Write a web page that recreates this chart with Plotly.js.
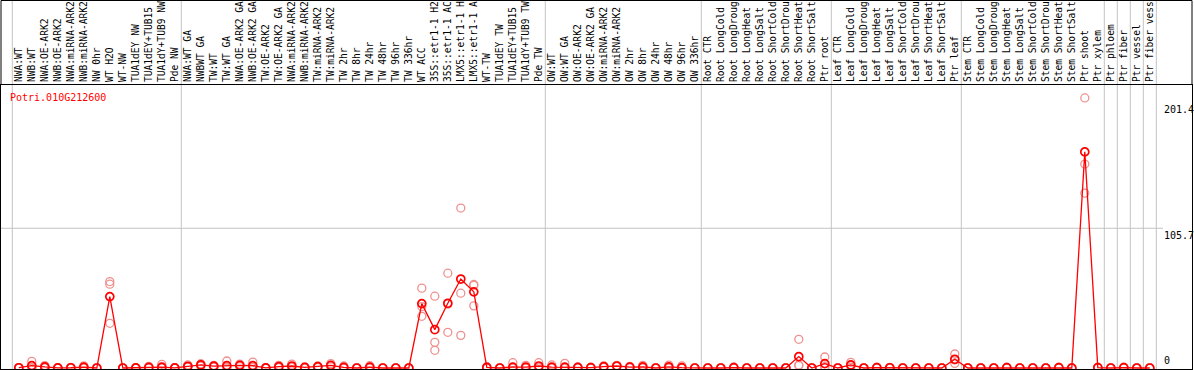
<!DOCTYPE html>
<html><head><meta charset="utf-8">
<script src="https://cdn.plot.ly/plotly-3.0.1.min.js"></script>
<style>html,body{margin:0;padding:0;background:#fff;overflow:hidden}</style>
</head><body><div id="chart" style="width:1194px;height:370px"></div>
<script>
const geneName = 'Potri.010G212600';

const labels = [
  'NWA:WT','NWB:WT','NWA:OE-ARK2','NWB:OE-ARK2','NWA:miRNA-ARK2','NWB:miRNA-ARK2','NW 0hr','WT H2O','WT-NW','TUA1dEY NW','TUA1dEY+TUB15','TUA1dY+TUB9 NW','Pde NW',
  'NWA:WT GA','NWBWT GA','TW:WT','TW:WT GA','NWA:OE-ARK2 GA','NWB:OE-ARK2 GA','TW:OE-ARK2','TW:OE-ARK2 GA','NWA:miRNA-ARK2','NWB:miRNA-ARK2','TW:miRNA-ARK2','TW:miRNA-ARK2','TW 2hr','TW 8hr','TW 24hr','TW 48hr','TW 96hr','TW 336hr','WT ACC','35S::etr1-1 H2','35S::etr1-1 AC','LMX5::etr1-1 H','LMX5::etr1-1 A','WT-TW','TUA1dEY TW','TUA1dEY+TUB15','TUA1dY+TUB9 TW','Pde TW',
  'OW:WT','OW:WT GA','OW:OE-ARK2','OW:OE-ARK2 GA','OW:miRNA-ARK2','OW:miRNA-ARK2','OW 2hr','OW 8hr','OW 24hr','OW 48hr','OW 96hr','OW 336hr',
  'Root CTR','Root LongCold','Root LongDroug','Root LongHeat','Root LongSalt','Root ShortCold','Root ShortDrou','Root ShortHeat','Root ShortSalt','Ptr root',
  'Leaf CTR','Leaf LongCold','Leaf LongDroug','Leaf LongHeat','Leaf LongSalt','Leaf ShortCold','Leaf ShortDrou','Leaf ShortHeat','Leaf ShortSalt','Ptr leaf',
  'Stem CTR','Stem LongCold','Stem LongDroug','Stem LongHeat','Stem LongSalt','Stem ShortCold','Stem ShortDrou','Stem ShortHeat','Stem ShortSalt','Ptr shoot','Ptr xylem',
  'Ptr phloem','Ptr fiber','Ptr vessel','Ptr fiber vess'
];

const means = [
  0.2,1.8,0.8,0.1,0.2,0.6,0,54,0,0.1,0.5,0.6,0.1,
  1.3,2.3,1.4,1.8,2,1.8,0.1,1,1.5,0.4,1,2,0.5,0,0.7,0,0,0,48.7,29,49,67.3,57.6,0.4,0,0.7,0.7,1.5,
  0.7,0.7,0.4,0.3,1,1.5,0.7,0.8,0,0.8,0.3,0,
  0,0,0.3,0,0,0,0,8.6,0,3.3,
  0,2.3,0,0.3,0.2,0,0,0,0,6.6,
  0,0,0,0.3,0,0,0,0.3,0,163.5,0.3,
  0,0.3,0,0
];

const rep1 = [
  0.3,5.0,1.8,0.2,0.5,1.6,0,65.4,0,0.2,1.2,2.8,0.2,
  2.3,3.2,2,5.3,3,4.5,0.2,2,3,0.8,1.5,3.3,1.5,0,1.7,0,0,0,60.4,54.3,71.7,121,63.2,1,0,4,2,4,
  2.3,3.5,0.8,0.6,1.6,2,1.2,2,0,2.2,1.6,0,
  0,0,0.8,0,0,0,0,21.7,0,8.3,
  0,4.3,0,0.6,0.4,0,0,0,0,10.6,
  0,0,0,0.6,0,0,0,0.6,0,204.3,0.6,
  0,0.6,0,0
];
const rep2 = [
  0.2,0.3,0.4,0.1,0.1,0.2,0,63.4,0,0.1,0.2,0.5,0.1,
  1,2.2,1.5,0.6,2,0.6,0.1,0.7,1,0.3,1,1.8,0,0,0.3,0,0,0,46.5,19.4,48.3,56.6,62.6,0.2,0,0.1,0.2,0.4,
  0,0,0.3,0.2,1,1.5,0.6,0.3,0,0.2,0,0,
  0,0,0.1,0,0,0,0,2.3,0,1,
  0,2,0,0.2,0.1,0,0,0,0,6,
  0,0,0,0.2,0,0,0,0.2,0,154.3,0.2,
  0,0.2,0,0
];
const rep3 = [
  0.1,0.2,0.2,0,0,0,0,33.8,0,0,0.1,0,0,
  0.6,1.5,0.7,0.5,1,0.3,0,0.3,0.5,0.1,0.5,0.9,0,0,0,0,0,0,39.1,13.4,27,24.7,47,0,0,0,0,0.1,
  0,0,0.1,0.1,0.4,1,0.3,0.1,0,0.1,0,0,
  0,0,0,0,0,0,0,1.8,0,0.6,
  0,0.6,0,0.1,0.1,0,0,0,0,3.5,
  0,0,0,0.1,0,0,0,0.1,0,132.3,0.1,
  0,0.1,0,0
];

const groupBreaks = [-0.5, 12.5, 40.5, 52.5, 62.5, 72.5, 83.5, 84.5, 85.5, 86.5, 87.5];
const yTickVals = [0, 105.7, 201.4];
const yTickText = ['0', '105.7', '201.4'];

const idx = labels.map((_, i) => i);
const font = 'DejaVu Sans Mono, monospace';
const W = 1194, H = 370;
const mL = 1, mR = 2, mT = 85, mB = 1;
const plotH = H - mT - mB;
const topPaper = (plotH + mT - 0.5) / plotH;

const repX = idx.concat(idx, idx);
const repY = rep1.concat(rep2, rep3);

const traces = [
  {
    x: repX, y: repY, type: 'scatter', mode: 'markers',
    marker: {symbol: 'circle-open', size: 8, color: '#ee9090', line: {width: 1.3, color: '#ee9090'}},
    hoverinfo: 'skip'
  },
  {
    x: idx, y: means, type: 'scatter', mode: 'lines+markers',
    line: {color: '#ff0000', width: 1.3},
    marker: {symbol: 'circle-open', size: 8, color: '#ff0000', line: {width: 1.7, color: '#ee0000'}}
  }
];

const shapes = [];
groupBreaks.forEach(b => shapes.push({
  type: 'line', xref: 'x', yref: 'paper', x0: b, x1: b, y0: 0, y1: topPaper + 0.01,
  line: {color: '#c4c4c4', width: 1}, layer: 'below'
}));
shapes.push({type: 'line', xref: 'paper', yref: 'y', x0: 0, x1: (1163 - mL) / (W - mL - mR), y0: yTickVals[1], y1: yTickVals[1],
  line: {color: '#c4c4c4', width: 1}, layer: 'below'});
shapes.push({type: 'line', xref: 'paper', yref: 'paper', x0: 0, x1: 1, y0: topPaper, y1: topPaper, line: {color: '#000', width: 1}});
shapes.push({type: 'line', xref: 'paper', yref: 'paper', x0: 0, x1: 0, y0: 1, y1: topPaper, line: {color: '#000', width: 1}});
shapes.push({type: 'line', xref: 'paper', yref: 'paper', x0: 1, x1: 1, y0: 1, y1: topPaper, line: {color: '#000', width: 1}});

const annotations = [
  {text: geneName, xref: 'paper', yref: 'paper', x: (8 - mL) / (W - mL - mR), y: (369 - 97) / plotH,
   xanchor: 'left', yanchor: 'middle', showarrow: false, font: {family: font, size: 10, color: '#ff0000'}}
];
yTickVals.forEach((v, k) => annotations.push({
  text: yTickText[k], xref: 'paper', yref: 'y', x: (1162 - mL) / (W - mL - mR), y: v,
  xanchor: 'left', yanchor: v === 0 ? 'bottom' : 'top', showarrow: false,
  font: {family: font, size: 10, color: '#000'}
}));

const layout = {
  width: W, height: H,
  margin: {l: mL, r: mR, t: mT, b: mB, pad: 0},
  paper_bgcolor: '#fff', plot_bgcolor: '#fff',
  showlegend: false,
  xaxis: {
    type: 'linear', range: [-1.369, 90.246], side: 'top',
    tickmode: 'array', tickvals: idx, ticktext: labels, tickangle: -90,
    tickfont: {family: font, size: 9.6, color: '#000'}, ticks: '',
    showgrid: false, zeroline: false, showline: true, mirror: true, linecolor: '#000', linewidth: 1,
    automargin: false, fixedrange: true
  },
  yaxis: {
    range: [-0.76, 214.1], showticklabels: false, ticks: '', showgrid: false, zeroline: false,
    showline: true, mirror: true, linecolor: '#000', linewidth: 1, automargin: false, fixedrange: true
  },
  shapes: shapes,
  annotations: annotations
};

Plotly.newPlot('chart', traces, layout, {displayModeBar: false, staticPlot: true});
</script></body></html>
